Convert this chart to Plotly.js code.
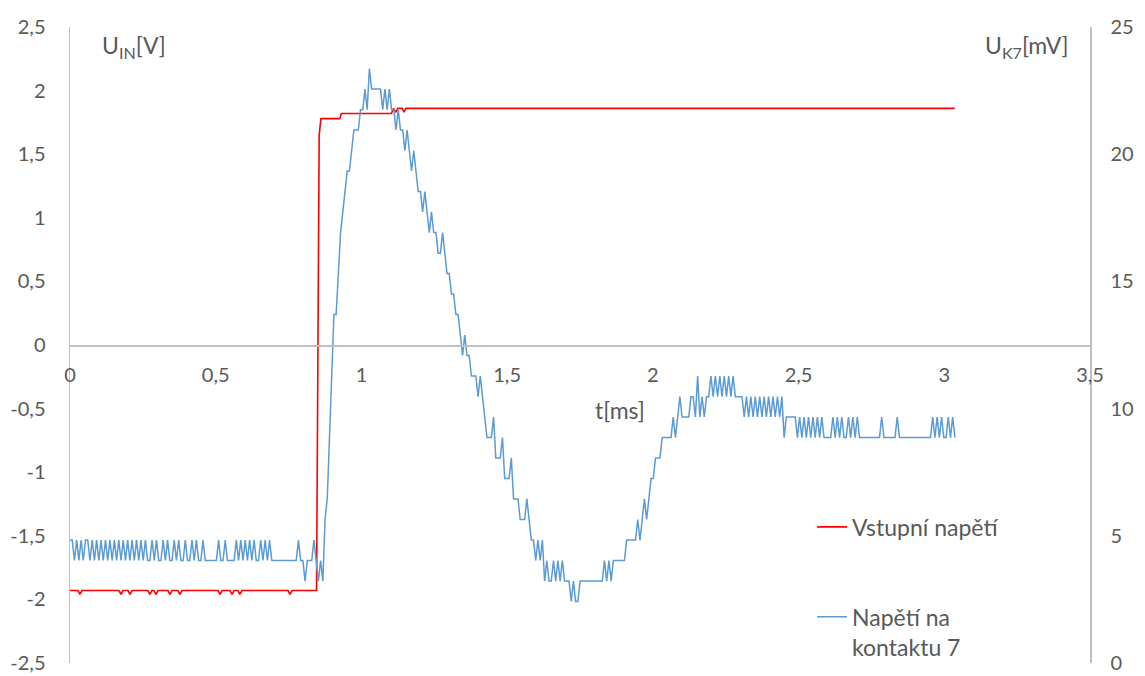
<!DOCTYPE html>
<html>
<head>
<meta charset="utf-8">
<script src="https://cdn.plot.ly/plotly-3.0.1.min.js"></script>
<style>html,body{margin:0;padding:0;background:#fff;}#chart{width:1145px;height:676px;}</style>
</head>
<body>
<div id="chart"></div>
<script>
// ---- data ----
// Input voltage (left axis, V): time [ms] and value at each change point
var tInput = [0, 0.027, 0.034, 0.041, 0.168, 0.175, 0.182, 0.199, 0.206, 0.213,
  0.267, 0.274, 0.281, 0.288, 0.295, 0.302, 0.336, 0.343, 0.350, 0.370, 0.377, 0.384,
  0.508, 0.515, 0.522, 0.549, 0.556, 0.563, 0.576, 0.583, 0.590, 0.748, 0.755, 0.762,
  0.846, 0.855, 0.861, 0.926, 0.931, 1.103, 1.110, 1.118, 1.125, 1.140, 1.146, 1.153, 3.036];
var uInput = [-1.93, -1.93, -1.96, -1.93, -1.93, -1.96, -1.93, -1.93, -1.96, -1.93,
  -1.93, -1.96, -1.93, -1.93, -1.96, -1.93, -1.93, -1.96, -1.93, -1.93, -1.96, -1.93,
  -1.93, -1.96, -1.93, -1.93, -1.96, -1.93, -1.93, -1.96, -1.93, -1.93, -1.96, -1.93,
  -1.93, 1.65, 1.78, 1.78, 1.82, 1.82, 1.86, 1.83, 1.86, 1.86, 1.83, 1.86, 1.86];

// Voltage on contact 7 (right axis, mV): samples from t0 every dtK7 ms
var t0K7 = 0;
var dtK7 = 0.00761;
var uK7 = [
  4.83,4.83,4.03,4.83,4.03,4.83,4.03,4.83,4.83,4.03,4.83,4.03,4.83,4.03,4.83,4.03,4.83,
  4.03,4.83,4.03,4.83,4.03,4.83,4.03,4.83,4.03,4.83,4.03,4.83,4.03,4.83,4.03,4.83,4.03,4.83,4.03,4.03,4.83,
  4.03,4.83,4.03,4.03,4.83,4.03,4.83,4.03,4.03,4.83,4.03,4.83,4.03,4.03,4.83,4.03,4.03,4.83,4.03,4.83,4.03,4.03,4.83,4.03,
  4.03,4.03,4.03,4.03,4.03,4.83,4.03,4.03,4.83,4.03,4.03,4.03,4.03,
  4.83,4.03,4.83,4.03,4.83,4.03,4.83,4.03,4.83,4.03,4.03,4.83,4.03,4.83,4.03,4.83,
  4.03,4.03,4.03,4.03,4.03,4.03,4.03,4.03,4.03,4.03,4.03,4.03,4.83,4.03,4.03,3.22,4.03,4.03,4.03,4.83,4.03,3.22,4.03,3.22,
  5.64,6.45,8.86,11.28,13.70,13.70,15.31,16.92,17.73,18.53,19.34,19.34,20.14,20.95,20.95,20.95,21.75,21.75,
  22.56,21.75,23.37,22.56,22.56,22.56,22.56,22.56,21.75,22.56,21.75,22.56,21.75,21.75,20.95,21.75,20.95,20.95,20.14,20.95,20.14,19.34,20.14,19.34,18.53,18.53,17.73,18.53,
  17.73,16.92,17.73,16.92,16.92,16.11,16.11,16.92,16.11,15.31,15.31,14.50,14.50,13.70,13.70,12.89,12.09,12.89,12.09,12.09,11.28,11.28,11.28,10.47,11.28,10.47,9.67,
  8.86,8.86,8.86,9.67,8.06,8.06,8.06,8.86,7.25,7.25,7.25,8.06,6.45,6.45,6.45,5.64,5.64,5.64,6.45,5.64,4.83,4.83,4.03,4.83,4.03,4.83,
  3.22,4.03,3.22,3.22,4.03,3.22,4.03,3.22,4.03,3.22,3.22,3.22,2.42,3.22,2.42,2.42,3.22,3.22,3.22,3.22,3.22,3.22,3.22,3.22,3.22,3.22,3.22,
  4.03,3.22,4.03,3.22,4.03,4.03,4.03,4.03,4.03,4.03,4.83,4.83,4.83,4.83,4.83,5.64,4.83,5.64,6.45,5.64,6.45,7.25,7.25,8.06,8.06,8.06,
  8.86,8.86,8.86,8.86,8.86,9.67,8.86,9.67,10.47,9.67,9.67,9.67,9.67,10.47,10.47,9.67,11.28,9.67,10.47,9.67,10.47,
  10.47,11.28,10.47,11.28,10.47,11.28,10.47,11.28,10.47,11.28,10.47,11.28,10.47,10.47,10.47,10.47,
  9.67,10.47,9.67,10.47,9.67,10.47,9.67,10.47,9.67,10.47,9.67,10.47,9.67,10.47,9.67,10.47,9.67,10.47,
  8.86,9.67,9.67,9.67,9.67,9.67,8.86,9.67,8.86,9.67,8.86,9.67,8.86,9.67,8.86,9.67,8.86,9.67,
  8.86,8.86,8.86,8.86,9.67,8.86,9.67,8.86,9.67,8.86,8.86,9.67,8.86,9.67,8.86,9.67,
  8.86,8.86,8.86,8.86,8.86,8.86,8.86,8.86,8.86,8.86,9.67,8.86,8.86,8.86,8.86,8.86,8.86,9.67,
  8.86,8.86,8.86,8.86,8.86,8.86,8.86,8.86,8.86,8.86,8.86,8.86,8.86,8.86,8.86,
  9.67,8.86,9.67,8.86,9.67,8.86,8.86,9.67,8.86,9.67,8.86
];

// tick labels
var xTickVals = [0, 0.5, 1, 1.5, 2, 2.5, 3, 3.5];
var xTickText = ['0', '0,5', '1', '1,5', '2', '2,5', '3', '3,5'];
var yTickVals = [-2.5, -2, -1.5, -1, -0.5, 0, 0.5, 1, 1.5, 2, 2.5];
var yTickText = ['-2,5', '-2', '-1,5', '-1', '-0,5', '0', '0,5', '1', '1,5', '2', '2,5'];
var y2TickVals = [0, 5, 10, 15, 20, 25];
var y2TickText = ['0', '5', '10', '15', '20', '25'];

var seriesNames = ['Vstupní napětí', 'Napětí na<br>kontaktu 7'];

var traces = [
  {
    x: tInput, y: uInput, type: 'scatter', mode: 'lines', name: seriesNames[0],
    line: {color: '#ff0000', width: 1.6}, yaxis: 'y', legend: 'legend', hoverinfo: 'skip'
  },
  {
    x0: t0K7, dx: dtK7, y: uK7, type: 'scatter', mode: 'lines', name: seriesNames[1],
    line: {color: '#5b9bd5', width: 1.5}, yaxis: 'y2', legend: 'legend2', hoverinfo: 'skip'
  }
];

var axisColor = '#bfbfbf';
var textColor = '#595959';
var bigFont = 23;

var layout = {
  width: 1145, height: 676,
  margin: {l: 70, r: 55, t: 27, b: 13, pad: 0, autoexpand: false},
  paper_bgcolor: '#ffffff', plot_bgcolor: '#ffffff',
  font: {family: 'Lato, "Open Sans", sans-serif', size: 20, color: textColor},
  showlegend: true,
  xaxis: {
    range: [0, 3.5], tickmode: 'array', tickvals: xTickVals, ticktext: xTickText,
    anchor: 'free', position: 0.5, showline: true, linecolor: axisColor, linewidth: 1.5,
    ticks: '', showgrid: false, zeroline: false, ticklabelstandoff: 11, fixedrange: true,
    automargin: false
  },
  yaxis: {
    range: [-2.5, 2.5], tickmode: 'array', tickvals: yTickVals, ticktext: yTickText,
    showline: true, linecolor: axisColor, linewidth: 1.5, ticks: '', showgrid: false,
    zeroline: false, ticklabelstandoff: 19, automargin: false
  },
  yaxis2: {
    range: [0, 25], tickmode: 'array', tickvals: y2TickVals, ticktext: y2TickText,
    overlaying: 'y', side: 'right', showline: true, linecolor: axisColor, linewidth: 1.5,
    ticks: '', showgrid: false, zeroline: false, ticklabelstandoff: 15, automargin: false
  },
  legend: {
    x: 0.7275, y: 0.214, xanchor: 'left', yanchor: 'middle',
    bgcolor: 'rgba(0,0,0,0)', font: {size: bigFont, color: textColor}
  },
  legend2: {
    x: 0.7275, y: 0.049, xanchor: 'left', yanchor: 'middle', valign: 'top',
    bgcolor: 'rgba(0,0,0,0)', font: {size: bigFont, color: textColor}
  },
  annotations: [
    {text: 't[ms]', xref: 'paper', yref: 'paper', x: 0.539, y: 0.398, xanchor: 'center', yanchor: 'middle',
     showarrow: false, font: {size: bigFont, color: textColor}},
    {text: 'U<sub>IN</sub>[V]', xref: 'paper', yref: 'paper', x: 0.0627, y: 0.969, xanchor: 'center', yanchor: 'middle',
     showarrow: false, font: {size: bigFont, color: textColor}},
    {text: 'U<sub>K7</sub>[mV]', xref: 'paper', yref: 'paper', x: 0.938, y: 0.969, xanchor: 'center', yanchor: 'middle',
     showarrow: false, font: {size: bigFont, color: textColor}}
  ]
};

Plotly.newPlot('chart', traces, layout, {displayModeBar: false, staticPlot: true});
</script>
</body>
</html>
